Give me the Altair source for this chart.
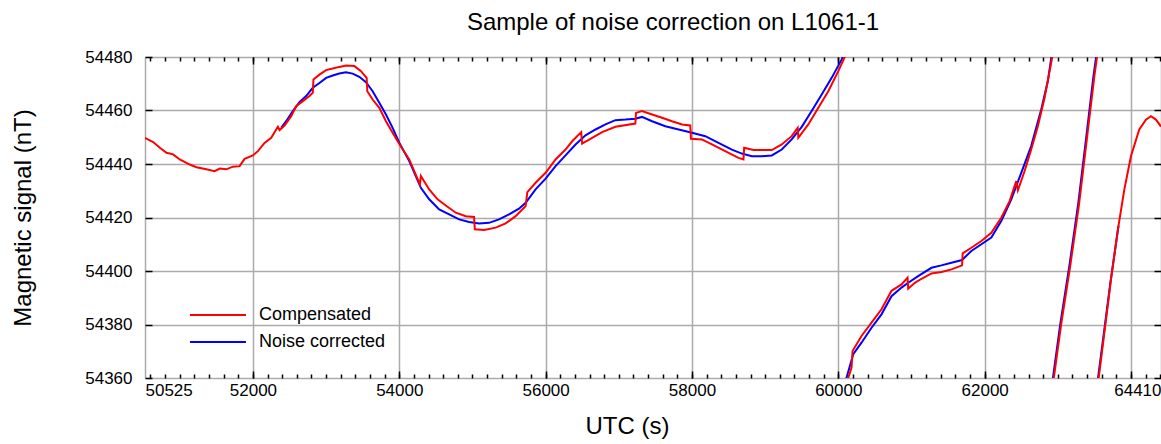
import altair as alt
import pandas as pd

series_names = ["Compensated", "Noise corrected"]
series_colors = ["#ff0000", "#0000ff"]

# ---- Compensated (red), four visible pieces ----
comp1_t = [50523, 50637, 50728, 50819, 50909, 51000, 51137, 51228, 51364, 51477, 51546, 51636,
           51727, 51818, 51886, 52000, 52068, 52159, 52250, 52341, 52364, 52432, 52523, 52591,
           52682, 52772, 52818, 52827, 52909, 53000, 53091, 53181, 53272, 53386, 53477, 53554,
           53563, 53636, 53727, 53818, 53909, 54000, 54136, 54282, 54295, 54409, 54523, 54636,
           54772, 54909, 55022, 55032, 55159, 55318, 55454, 55590, 55727, 55750, 55863, 56000,
           56136, 56272, 56363, 56486, 56499, 56636, 56772, 56954, 57226, 57235, 57317, 57455,
           57591, 57727, 57864, 57977, 57986, 58136, 58273, 58454, 58636, 58704, 58713, 58841,
           58977, 59091, 59227, 59363, 59445, 59454, 59590, 59727, 59863, 60000, 60130]
comp1_v = [54449.8, 54448.2, 54446.1, 54444.2, 54443.6, 54441.7, 54439.8, 54438.8, 54438.0, 54437.3,
           54438.3, 54438.0, 54439.0, 54439.2, 54441.9, 54443.2, 54444.8, 54447.9, 54449.8, 54453.9,
           54452.7, 54454.4, 54457.9, 54461.6, 54463.5, 54465.4, 54466.6, 54471.6, 54473.4, 54475.1,
           54475.7, 54476.3, 54476.8, 54476.6, 54474.7, 54472.2, 54467.2, 54464.1, 54461.0, 54456.0,
           54451.7, 54447.5, 54441.7, 54432.4, 54435.5, 54430.5, 54426.8, 54424.5, 54421.8, 54420.5,
           54420.2, 54415.6, 54415.3, 54416.2, 54417.8, 54420.5, 54424.3, 54429.5, 54433.0, 54436.7,
           54441.7, 54445.4, 54448.5, 54451.9, 54447.6, 54449.8, 54451.9, 54453.9, 54455.1, 54459.1,
           54459.8, 54458.5, 54457.3, 54456.0, 54454.8, 54454.4, 54449.4, 54449.2, 54447.3, 54444.8,
           54442.3, 54441.7, 54446.1, 54445.2, 54445.2, 54445.2, 54447.3, 54450.4, 54453.5, 54449.8,
           54454.8, 54461.0, 54467.2, 54474.7, 54482.5]
comp2_t = [60100, 60181, 60195, 60317, 60454, 60590, 60727, 60864, 60946, 60955, 61046, 61137,
           61273, 61409, 61546, 61691, 61700, 61818, 61955, 62091, 62227, 62341, 62432, 62454,
           62545, 62636, 62727, 62818, 62909, 62940]
comp2_v = [54357.0, 54363.9, 54370.1, 54375.7, 54380.7, 54385.7, 54392.6, 54395.0, 54397.5, 54393.4,
           54395.6, 54397.1, 54399.1, 54399.6, 54400.6, 54402.1, 54406.6, 54408.7, 54411.2, 54414.3,
           54419.9, 54426.1, 54433.6, 54430.2, 54437.3, 54445.4, 54454.1, 54464.7, 54477.8, 54482.5]
comp3_t = [62930, 63045, 63170, 63290, 63400, 63500, 63548]
comp3_v = [54357.0, 54380.0, 54402.0, 54425.0, 54450.0, 54473.0, 54482.5]
comp4_t = [63545, 63636, 63727, 63818, 63909, 64000, 64113, 64204, 64272, 64341, 64410]
comp4_v = [54357.0, 54377.0, 54396.9, 54415.0, 54430.5, 54443.0, 54452.9, 54456.6, 54457.9,
           54456.6, 54454.0]

# ---- Noise corrected (blue), four visible pieces ----
corr1_t = [52386, 52454, 52545, 52636, 52727, 52818, 52909, 53000, 53091, 53181, 53272, 53363,
           53454, 53545, 53636, 53727, 53818, 53909, 54000, 54136, 54295, 54409, 54545, 54682,
           54818, 54954, 55091, 55227, 55363, 55500, 55636, 55727, 55863, 56000, 56136, 56272,
           56409, 56545, 56682, 56818, 56954, 57091, 57226, 57317, 57455, 57636, 57818, 58000,
           58182, 58363, 58545, 58682, 58818, 58954, 59091, 59227, 59363, 59500, 59636, 59773,
           59909, 60045, 60100]
corr1_v = [54453.5, 54456.0, 54459.8, 54463.1, 54465.4, 54468.5, 54470.3, 54472.2, 54473.1, 54473.8,
           54474.3, 54473.8, 54472.6, 54470.6, 54467.2, 54462.9, 54458.5, 54453.5, 54448.0, 54441.1,
           54431.1, 54426.8, 54423.0, 54421.2, 54419.3, 54418.3, 54417.8, 54418.0, 54419.3, 54421.2,
           54423.3, 54425.5, 54430.5, 54434.5, 54439.2, 54443.2, 54447.3, 54450.7, 54452.9, 54454.8,
           54456.4, 54456.6, 54456.9, 54457.6, 54456.0, 54454.1, 54452.9, 54451.7, 54450.4, 54447.9,
           54445.4, 54443.9, 54442.9, 54442.9, 54443.2, 54445.4, 54449.2, 54453.9, 54459.8, 54466.0,
           54472.2, 54479.0, 54482.5]
corr2_t = [60080, 60204, 60317, 60454, 60590, 60727, 60864, 60955, 61091, 61273, 61409, 61546,
           61691, 61818, 61955, 62091, 62227, 62364, 62500, 62636, 62773, 62864, 62925]
corr2_v = [54357.0, 54368.9, 54373.2, 54378.8, 54383.8, 54390.6, 54393.8, 54395.6, 54398.1, 54401.2,
           54402.1, 54403.1, 54404.1, 54407.5, 54410.0, 54412.5, 54418.7, 54426.8, 54436.7, 54446.7,
           54460.4, 54471.0, 54482.5]
corr3_t = [62918, 63033, 63158, 63278, 63388, 63488, 63536]
corr3_v = [54357.0, 54380.0, 54402.0, 54425.0, 54450.0, 54473.0, 54482.5]
corr4_t = [63535, 63628, 63720, 63830]
corr4_v = [54357.0, 54376.5, 54396.0, 54417.0]

# axis values
x_label_values = [50525, 52000, 54000, 56000, 58000, 60000, 62000, 64000, 64410]
x_major = [52000, 54000, 56000, 58000, 60000, 62000, 64000]
x_minor = list(range(50600, 64410, 200))
y_values = [54360, 54380, 54400, 54420, 54440, 54460, 54480]

rows = []
pieces = [
    ("Noise corrected", "b1", corr1_t, corr1_v),
    ("Noise corrected", "b2", corr2_t, corr2_v),
    ("Noise corrected", "b3", corr3_t, corr3_v),
    ("Noise corrected", "b4", corr4_t, corr4_v),
    ("Compensated", "r1", comp1_t, comp1_v),
    ("Compensated", "r2", comp2_t, comp2_v),
    ("Compensated", "r3", comp3_t, comp3_v),
    ("Compensated", "r4", comp4_t, comp4_v),
]
for name, seg, ts, vs in pieces:
    for t, v in zip(ts, vs):
        rows.append({"series": name, "seg": seg, "t": t, "v": v})
df = pd.DataFrame(rows)

W, H = 1016, 321
FONT = "Liberation Sans"
GRID = "#ababab"

x_scale = alt.Scale(domain=[50525, 64410], nice=False, zero=False)
y_scale = alt.Scale(domain=[54360, 54480], nice=False, zero=False)

x_main = alt.Axis(
    orient="bottom", values=x_label_values, format="d",
    labelExpr="datum.value == 64000 ? '' : datum.label",
    labelFlush=True, labelOverlap=False, labelFont=FONT, labelFontSize=17,
    labelColor="black", labelPadding=4, ticks=False, tickSize=0, domain=False,
    grid=True, gridColor=GRID, gridWidth=1.5,
    title="UTC (s)", titleFont=FONT, titleFontSize=24, titleFontWeight="normal",
    titleColor="black", titleX=482, titleY=55, titleAlign="center",
    titleBaseline="alphabetic",
)
y_main = alt.Axis(
    orient="left", values=y_values, format="d", labelOverlap=False,
    labelFont=FONT, labelFontSize=17, labelColor="black", labelPadding=13,
    ticks=False, tickSize=0, domain=False,
    grid=True, gridColor=GRID, gridWidth=1.5,
    title="Magnetic signal (nT)", titleFont=FONT, titleFontSize=24,
    titleFontWeight="normal", titleColor="black", titleX=-115, titleY=160.5,
    titleAngle=270, titleAlign="center", titleBaseline="alphabetic",
)

lines = alt.Chart(df).mark_line(strokeWidth=2, clip=True).encode(
    x=alt.X("t:Q", scale=x_scale, axis=x_main),
    y=alt.Y("v:Q", scale=y_scale, axis=y_main),
    color=alt.Color(
        "series:N",
        scale=alt.Scale(domain=series_names, range=series_colors),
        legend=alt.Legend(
            title=None, orient="none", legendX=44, legendY=248,
            symbolType="stroke", symbolSize=3136, symbolStrokeWidth=2,
            labelFont=FONT, labelFontSize=18, labelColor="black",
            labelOffset=12, clipHeight=20, rowPadding=7, padding=0,
        ),
    ),
    detail="seg:N",
)


def tick_axis(orient, values, size):
    return alt.Axis(
        orient=orient, values=values, offset=-(H if orient in ("top", "bottom") else W),
        labels=False, domain=False, grid=False, ticks=True, tickSize=size,
        tickColor="black", tickWidth=1.5, title=None,
    )


def helper(xaxis, yaxis):
    return alt.Chart(df).mark_line(strokeOpacity=0).encode(
        x=alt.X("t:Q", scale=x_scale, axis=xaxis),
        y=alt.Y("v:Q", scale=y_scale, axis=yaxis),
        detail="seg:N",
    )


h1 = helper(tick_axis("top", x_major, 7), tick_axis("right", y_values, 7))
h2 = helper(tick_axis("bottom", x_major, 7), tick_axis("left", y_values, 7))
h3 = helper(tick_axis("top", x_minor, 4), None)
h4 = helper(tick_axis("bottom", x_minor, 4), None)

chart = alt.layer(lines, h1, h2, h3, h4).resolve_axis(
    x="independent", y="independent"
).properties(
    width=W, height=H,
    padding={"left": 145, "top": 57, "right": 0, "bottom": 66},
    autosize=alt.AutoSizeParams(type="none"),
    title=alt.TitleParams(
        "Sample of noise correction on L1061-1", font=FONT, fontSize=24,
        fontWeight="normal", color="black", anchor="middle", dx=20, dy=-9,
    ),
).configure_view(stroke="black", strokeWidth=2).configure(background="white")

chart.save("out.html", embed_options={"renderer": "svg", "actions": False})
